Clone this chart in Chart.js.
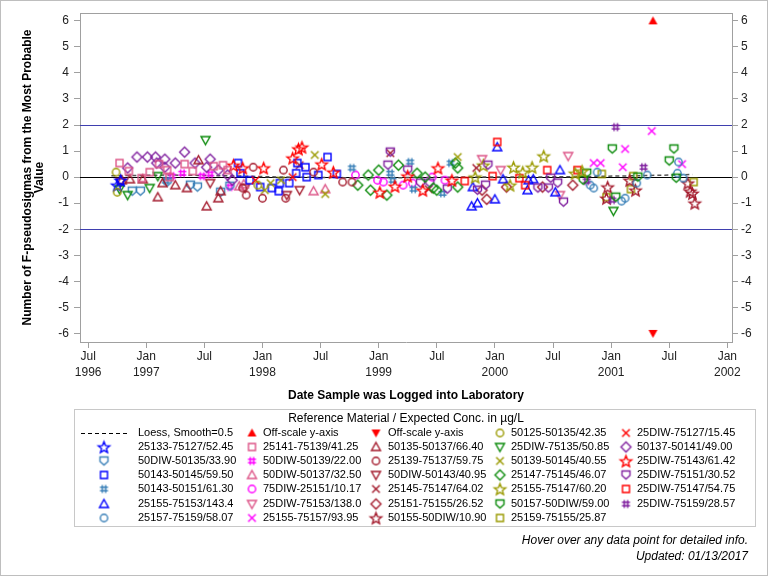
<!DOCTYPE html>
<html>
<head>
<meta charset="utf-8">
<script src="https://cdn.jsdelivr.net/npm/chart.js@4.4.1/dist/chart.umd.min.js"></script>
<style>
  html, body { margin: 0; padding: 0; background: #fff; }
  #wrap { width: 768px; height: 576px; }
</style>
</head>
<body>
<div id="wrap"><canvas id="chart" width="768" height="576"></canvas></div>
<script>
// x = date as decimal year, y = number of F-pseudosigmas
const xMin = 1996.43, xMax = 2002.04;
const yMin = -6.33, yMax = 6.3;
const xTickValues = [1996.5, 1997, 1997.5, 1998, 1998.5, 1999, 1999.5, 2000, 2000.5, 2001, 2001.5, 2002];
const xTickLabels = [['Jul', '1996'], ['Jan', '1997'], ['Jul', ''], ['Jan', '1998'], ['Jul', ''], ['Jan', '1999'],
                     ['Jul', ''], ['Jan', '2000'], ['Jul', ''], ['Jan', '2001'], ['Jul', ''], ['Jan', '2002']];
const yTickValues = [-6, -5, -4, -3, -2, -1, 0, 1, 2, 3, 4, 5, 6];
const refLevels = [2, 0, -2];

const loess = [[1996.7, 0.05], [1997.2, 0.08], [1997.7, 0.05], [1998.2, 0.0], [1998.7, -0.02], [1999.2, -0.02],
               [1999.7, 0.0], [2000.2, 0.0], [2000.7, 0.02], [2001.2, 0.05], [2001.7, 0.1]];
const offScaleUp = [[2001.36, 6]];
const offScaleDown = [[2001.36, -6]];

const d50125_50135 = [[1996.74, 0.19], [1996.75, -0.58], [1997.96, -0.31]];
const d25DIW_75127 = [[1997.94, -0.12], [1998.26, 0.0]];
const d25133_75127 = [[1996.75, -0.31], [1996.78, -0.12]];
const d25141_75139 = [[1996.77, 0.54], [1996.85, 0.23], [1996.96, -0.04], [1997.03, 0.19], [1997.11, 0.5], [1997.18, 0.27],
                      [1997.20, 0.0], [1997.33, 0.5], [1997.40, 0.23], [1997.58, 0.42], [1997.66, 0.46], [1997.70, 0.27]];
const d50135_50137 = [[1997.45, 0.65], [1997.10, -0.77], [1997.52, -1.12], [1997.62, -0.81], [1997.64, -0.54], [1997.14, -0.23],
                      [1997.25, -0.31], [1997.35, -0.42], [1996.97, -0.08], [1996.86, -0.08], [1996.79, -0.12]];
const d25DIW_75135 = [[1997.51, 1.42], [1996.84, -0.69], [1997.03, -0.42], [1997.10, 0.04], [1996.77, -0.46], [2001.02, -1.3]];
const d50137_50141 = [[1996.92, 0.77], [1997.01, 0.77], [1997.08, 0.77], [1997.16, 0.69], [1997.33, 0.96], [1997.25, 0.54],
                      [1997.09, 0.54], [1996.84, 0.35], [1997.16, 0.38], [1997.55, 0.69], [1997.52, 0.38], [1997.42, 0.54],
                      [1997.62, 0.27], [1997.70, 0.08], [1997.74, -0.12]];
const d50DIW_50135 = [[1996.88, -0.54], [1996.95, -0.54], [1997.18, -0.19], [1997.38, -0.31], [1997.44, -0.38], [1997.64, -0.58], [1997.72, -0.35]];
const d50DIW_50139 = [[1997.22, 0.04], [1997.31, 0.15], [1997.48, 0.04], [1997.55, 0.12], [1997.72, -0.38]];
const d25139_75137 = [[1997.92, 0.38], [1997.86, -0.69], [1998.0, -0.81], [1998.18, 0.27], [1998.20, -0.81], [1997.83, -0.42],
                      [1998.44, 0.19], [1998.69, -0.19], [1998.77, -0.19]];
const d50139_50145 = [[1998.02, -0.5], [1998.07, -0.23], [1998.45, 0.85], [1998.54, -0.65], [1999.68, 0.77], [1998.16, -0.12]];
const d25DIW_75143 = [[1997.75, 0.46], [1997.83, 0.35], [1998.01, 0.35], [1998.26, 0.73], [1998.31, 1.08], [1998.34, 1.15],
                      [1998.51, 0.5], [1998.61, 0.19], [1999.51, 0.35], [1999.63, -0.12], [1999.38, -0.5], [1999.01, -0.58],
                      [1999.14, -0.35], [1999.25, 0.04]];
const d50143_50145 = [[1997.79, 0.54], [1997.81, 0.15], [1997.89, -0.12], [1997.98, -0.38], [1998.08, -0.42], [1998.15, -0.23],
                      [1998.23, -0.23], [1998.14, -0.54], [1998.29, 0.15], [1998.30, 0.54], [1998.37, 0.38], [1998.38, 0.0],
                      [1998.48, 0.08], [1998.56, 0.77], [1998.64, 0.12]];
const d50DIW_50137 = [[1997.80, -0.35], [1997.84, -0.27], [1998.44, -0.54], [1998.54, -0.46]];
const d50DIW_50143 = [[1996.78, -0.19], [1997.55, -0.23], [1997.85, -0.42], [1998.21, -0.69], [1998.32, -0.5]];
const d25147_75145 = [[1999.0, 0.27], [1998.93, -0.5], [1999.07, -0.69], [1999.17, 0.46], [1998.82, -0.31], [1999.33, 0.15],
                      [1999.40, 0.0], [1999.47, -0.42], [1999.50, -0.5], [1999.66, 0.54], [1999.68, 0.35], [1999.68, -0.38], [1998.91, 0.08]];
const d25DIW_75151 = [[1999.10, 0.96], [1999.08, 0.46], [1999.25, 0.27], [1999.36, -0.23], [1999.44, -0.23], [1999.59, -0.46],
                      [1999.94, 0.46], [1999.92, -0.31], [1999.85, -0.5], [2000.59, -0.96], [2000.37, -0.42], [2000.46, -0.42],
                      [2000.54, -0.23], [2000.48, -0.04]];
const d50143_50151 = [[1997.17, -0.15], [1998.77, 0.35], [1999.10, 0.15], [1999.27, 0.58], [1999.12, -0.12], [1999.30, -0.46],
                      [1999.55, -0.62], [1999.62, 0.54]];
const d75DIW_25151 = [[1998.80, 0.08], [1998.99, -0.12], [1999.04, -0.19], [1999.21, -0.31], [1999.29, -0.23], [1999.46, 0.0], [1999.57, -0.12]];
const d25145_75147 = [[1998.32, 0.46], [1999.10, 0.92], [1999.43, -0.46], [1999.84, 0.35]];
const d25155_75147 = [[1999.83, 0.0], [1999.90, 0.46], [2000.42, 0.81], [2000.16, 0.38], [2000.24, 0.19], [2000.32, 0.38],
                      [2000.69, 0.15], [2000.75, 0.23], [2000.13, -0.31]];
const d25DIW_75147 = [[1999.74, -0.15], [1999.98, 0.04], [2000.02, 1.35], [2000.45, 0.27], [2000.26, -0.31], [2000.21, -0.04], [2000.71, 0.27]];
const d25155_75153 = [[1999.81, -0.38], [1999.80, -1.12], [1999.85, -1.0], [2000.0, -0.85], [2000.07, -0.08], [2000.02, 1.15],
                      [2000.28, -0.5], [2000.29, -0.12], [2000.52, -0.58], [2000.56, 0.27], [2000.33, -0.08]];
const d25DIW_75153 = [[1999.89, 0.69], [2000.05, 0.27], [2000.63, 0.81], [2000.56, -0.69]];
const d25151_75155 = [[1999.93, -0.85], [2000.10, -0.38], [1999.89, -0.5], [2000.67, -0.31], [2000.41, -0.38]];
const d50157_50DIW = [[2000.79, 0.15], [2000.76, -0.12], [2001.01, 1.08], [2001.54, 1.08], [2001.50, 0.62], [2001.56, -0.04],
                      [2001.23, 0.0], [2001.04, -0.77]];
const d25DIW_75159 = [[2001.04, 1.92], [2001.28, 0.38], [2000.79, -0.15], [2001.01, -0.88]];
const d25157_75159 = [[2000.82, -0.31], [2000.85, -0.42], [2000.88, 0.19], [2001.12, -0.81], [2001.09, -0.92], [2001.22, -0.23],
                      [2001.31, 0.08], [2001.57, 0.15], [2001.58, 0.58], [2001.62, -0.04]];
const d25155_75157 = [[2000.85, 0.54], [2000.91, 0.54], [2001.12, 1.08], [2001.35, 1.77], [2001.10, 0.38], [2001.61, 0.5]];
const d50155_50DIW = [[2000.97, -0.38], [2000.96, -0.81], [2001.16, -0.12], [2001.21, -0.5], [2001.66, -0.23], [2001.68, -0.54],
                      [2001.72, -1.0], [2001.70, -0.62]];
const d25159_75155 = [[2000.92, 0.12], [2001.17, -0.46], [2001.19, 0.04], [2001.71, -0.19], [2000.96, -0.77]];

// series in legend order (row by row, after the three special entries)
const seriesLabels = [
  '50125-50135/42.35', '25DIW-75127/15.45',
  '25133-75127/52.45', '25141-75139/41.25', '50135-50137/66.40', '25DIW-75135/50.85', '50137-50141/49.00',
  '50DIW-50135/33.90', '50DIW-50139/22.00', '25139-75137/59.75', '50139-50145/40.55', '25DIW-75143/61.42',
  '50143-50145/59.50', '50DIW-50137/32.50', '50DIW-50143/40.95', '25147-75145/46.07', '25DIW-75151/30.52',
  '50143-50151/61.30', '75DIW-25151/10.17', '25145-75147/64.02', '25155-75147/60.20', '25DIW-75147/54.75',
  '25155-75153/143.4', '25DIW-75153/138.0', '25151-75155/26.52', '50157-50DIW/59.00', '25DIW-75159/28.57',
  '25157-75159/58.07', '25155-75157/93.95', '50155-50DIW/10.90', '25159-75155/25.87'
];
const seriesData = [
  d50125_50135, d25DIW_75127,
  d25133_75127, d25141_75139, d50135_50137, d25DIW_75135, d50137_50141,
  d50DIW_50135, d50DIW_50139, d25139_75137, d50139_50145, d25DIW_75143,
  d50143_50145, d50DIW_50137, d50DIW_50143, d25147_75145, d25DIW_75151,
  d50143_50151, d75DIW_25151, d25145_75147, d25155_75147, d25DIW_75147,
  d25155_75153, d25DIW_75153, d25151_75155, d50157_50DIW, d25DIW_75159,
  d25157_75159, d25155_75157, d50155_50DIW, d25159_75155
];

// marker styles
const C = {
  blue: '#0000FF', steel: '#3A80B8', pink: '#DD5588', magenta: '#FF00FF', darkred: '#A3192B',
  olive: '#9A9A00', green: '#0A8A0A', red: '#FF0000', purple: '#80209F'
};
const seriesStyles = [
  ['circle', C.olive], ['x', C.red],
  ['star', C.blue], ['square', C.pink], ['tri', C.darkred], ['triDown', C.green], ['diamond', C.purple],
  ['shield', C.steel], ['hash', C.magenta], ['circle', C.darkred], ['x', C.olive], ['star', C.red],
  ['square', C.blue], ['tri', C.pink], ['triDown', C.darkred], ['diamond', C.green], ['shield', C.purple],
  ['hash', C.steel], ['circle', C.magenta], ['x', C.darkred], ['star', C.olive], ['square', C.red],
  ['tri', C.blue], ['triDown', C.pink], ['diamond', C.darkred], ['shield', C.green], ['hash', C.purple],
  ['circle', C.steel], ['x', C.magenta], ['star', C.darkred], ['square', C.olive]
];

const FONT = "'Liberation Sans', Arial, sans-serif";

function makeMarker(shape, color) {
  const c = document.createElement('canvas');
  c.width = 17; c.height = 17;
  const g = c.getContext('2d');
  const m = 8.5;
  g.strokeStyle = color;
  g.fillStyle = color;
  g.lineWidth = 1.4;
  g.lineJoin = 'miter';
  g.beginPath();
  if (shape === 'square') {
    g.rect(m - 3.5, m - 3.5, 7, 7);
  } else if (shape === 'circle') {
    g.arc(m, m, 3.7, 0, Math.PI * 2);
  } else if (shape === 'tri' || shape === 'triFill') {
    g.moveTo(m, m - 4.5); g.lineTo(m + 4.5, m + 3.5); g.lineTo(m - 4.5, m + 3.5); g.closePath();
  } else if (shape === 'triDown' || shape === 'triDownFill') {
    g.moveTo(m, m + 4.5); g.lineTo(m + 4.5, m - 3.5); g.lineTo(m - 4.5, m - 3.5); g.closePath();
  } else if (shape === 'diamond') {
    g.moveTo(m, m - 5); g.lineTo(m + 5, m); g.lineTo(m, m + 5); g.lineTo(m - 5, m); g.closePath();
  } else if (shape === 'x') {
    g.moveTo(m - 3.8, m - 3.8); g.lineTo(m + 3.8, m + 3.8);
    g.moveTo(m + 3.8, m - 3.8); g.lineTo(m - 3.8, m + 3.8);
  } else if (shape === 'hash') {
    g.moveTo(m - 1.7, m - 4); g.lineTo(m - 1.7, m + 4);
    g.moveTo(m + 1.7, m - 4); g.lineTo(m + 1.7, m + 4);
    g.moveTo(m - 4, m - 1.7); g.lineTo(m + 4, m - 1.7);
    g.moveTo(m - 4, m + 1.7); g.lineTo(m + 4, m + 1.7);
  } else if (shape === 'shield') {
    g.moveTo(m - 4, m - 4); g.lineTo(m + 4, m - 4); g.lineTo(m + 4, m + 0.5);
    g.lineTo(m, m + 4); g.lineTo(m - 4, m + 0.5); g.closePath();
  } else if (shape === 'star') {
    for (let i = 0; i < 10; i++) {
      const r = i % 2 === 0 ? 6 : 2.6;
      const a = -Math.PI / 2 + i * Math.PI / 5;
      const px = m + r * Math.cos(a), py = m + 0.7 + r * Math.sin(a);
      if (i === 0) g.moveTo(px, py); else g.lineTo(px, py);
    }
    g.closePath();
  }
  if (shape === 'triFill' || shape === 'triDownFill') g.fill();
  else g.stroke();
  return c;
}

const markers = seriesStyles.map(([shape, color]) => makeMarker(shape, color));
const upMarker = makeMarker('triFill', '#FF0000');
const downMarker = makeMarker('triDownFill', '#FF0000');
const toXY = arr => arr.map(([x, y]) => ({ x, y }));

const datasets = [
  {
    label: 'Loess, Smooth=0.5', data: toXY(loess), showLine: true, fill: false,
    borderColor: '#555', borderWidth: 1.5, borderDash: [4, 3], pointRadius: 0, order: 50
  },
  { label: 'Off-scale y-axis', data: toXY(offScaleUp), pointStyle: upMarker, pointRadius: 5 },
  { label: 'Off-scale y-axis', data: toXY(offScaleDown), pointStyle: downMarker, pointRadius: 5 }
];
seriesData.forEach((arr, i) => {
  datasets.push({ label: seriesLabels[i], data: toXY(arr), pointStyle: markers[i], pointRadius: 5 });
});

// frame and reference lines under the points
const backdrop = {
  id: 'backdrop',
  beforeDatasetsDraw(chart) {
    const { ctx, chartArea: a, scales } = chart;
    ctx.save();
    ctx.lineWidth = 1;
    refLevels.forEach(v => {
      const y = Math.round(scales.y.getPixelForValue(v)) + 0.5;
      ctx.strokeStyle = v === 0 ? '#000' : '#3F3FAF';
      ctx.beginPath(); ctx.moveTo(a.left, y); ctx.lineTo(a.right, y); ctx.stroke();
    });
    ctx.strokeStyle = '#A0A0A0';
    ctx.beginPath(); ctx.moveTo(a.left, a.top + 0.5); ctx.lineTo(a.right, a.top + 0.5); ctx.stroke();
    ctx.restore();
  }
};

// legend box, notes and outer border
const legendCols = [[104, 138], [252, 263], [376, 388], [500, 511], [626, 637]];
const legendTop = 433, legendStep = 14.1;
const customLegend = {
  id: 'customLegend',
  afterDraw(chart) {
    const { ctx } = chart;
    ctx.save();
    ctx.strokeStyle = '#C8C8C8';
    ctx.lineWidth = 1;
    ctx.strokeRect(74.5, 409.5, 681, 117);
    ctx.fillStyle = '#000';
    ctx.textBaseline = 'middle';
    ctx.textAlign = 'center';
    ctx.font = '12px ' + FONT;
    ctx.fillText('Reference Material / Expected Conc. in µg/L', 406, 419);

    const entries = [
      { label: 'Loess, Smooth=0.5', line: true },
      { label: 'Off-scale y-axis', img: upMarker },
      { label: 'Off-scale y-axis', img: downMarker }
    ].concat(seriesLabels.map((l, i) => ({ label: l, img: markers[i] })));

    ctx.font = '11px ' + FONT;
    ctx.textAlign = 'left';
    entries.forEach((e, i) => {
      const col = i % 5, row = Math.floor(i / 5);
      const [mx, tx] = legendCols[col];
      const y = legendTop + row * legendStep;
      if (e.line) {
        ctx.save();
        ctx.strokeStyle = '#000';
        ctx.setLineDash([4, 3]);
        ctx.beginPath(); ctx.moveTo(81, Math.round(y) + 0.5); ctx.lineTo(130, Math.round(y) + 0.5); ctx.stroke();
        ctx.restore();
      } else {
        ctx.drawImage(e.img, Math.round(mx) - 8.5, Math.round(y) - 8.5);
      }
      ctx.fillText(e.label, tx, y);
    });

    ctx.font = 'italic 12px ' + FONT;
    ctx.textAlign = 'right';
    ctx.fillText('Hover over any data point for detailed info.', 748, 541);
    ctx.fillText('Updated: 01/13/2017', 748, 557);

    ctx.strokeStyle = '#BEBEBE';
    ctx.strokeRect(0.5, 0.5, 767, 575);
    ctx.restore();
  }
};

const yTicksOpts = pad => ({
  color: '#222', padding: pad, font: { family: FONT, size: 12 }, autoSkip: false,
  callback: v => String(v)
});

new Chart(document.getElementById('chart').getContext('2d'), {
  type: 'scatter',
  data: { datasets },
  options: {
    responsive: false,
    animation: false,
    devicePixelRatio: 1,
    layout: { padding: { top: 13, bottom: 164, left: 0, right: 0 } },
    plugins: { legend: { display: false }, tooltip: { enabled: true } },
    scales: {
      x: {
        type: 'linear', position: 'bottom', min: xMin, max: xMax,
        afterBuildTicks: s => { s.ticks = xTickValues.map(v => ({ value: v })); },
        afterFit: s => { s.height = 70; },
        ticks: {
          color: '#222', padding: 1, autoSkip: false, maxRotation: 0, minRotation: 0,
          font: { family: FONT, size: 12, lineHeight: 1.3 },
          callback: v => xTickLabels[xTickValues.indexOf(v)]
        },
        grid: { drawOnChartArea: false, drawTicks: true, tickLength: 6, color: '#A0A0A0' },
        border: { color: '#A0A0A0' },
        title: {
          display: true, text: 'Date Sample was Logged into Laboratory', color: '#000',
          font: { family: FONT, size: 12, weight: 'bold' }, padding: { top: 0, bottom: 9 }
        }
      },
      y: {
        type: 'linear', position: 'left', min: yMin, max: yMax,
        afterBuildTicks: s => { s.ticks = yTickValues.map(v => ({ value: v })); },
        afterFit: s => { s.width = 80; },
        ticks: yTicksOpts(5),
        grid: { drawOnChartArea: false, drawTicks: true, tickLength: 6, color: '#A0A0A0' },
        border: { color: '#A0A0A0' },
        title: {
          display: true, text: ['Number of F-pseudosigmas from the Most Probable', 'Value'], color: '#000',
          font: { family: FONT, size: 12, weight: 'bold', lineHeight: 1.05 }, padding: { top: 21, bottom: 0 }
        }
      },
      y2: {
        type: 'linear', position: 'right', min: yMin, max: yMax,
        afterBuildTicks: s => { s.ticks = yTickValues.map(v => ({ value: v })); },
        afterFit: s => { s.width = 36; },
        ticks: yTicksOpts(3),
        grid: { drawOnChartArea: false, drawTicks: true, tickLength: 6, color: '#A0A0A0' },
        border: { color: '#A0A0A0' }
      }
    }
  },
  plugins: [backdrop, customLegend]
});
</script>
</body>
</html>
